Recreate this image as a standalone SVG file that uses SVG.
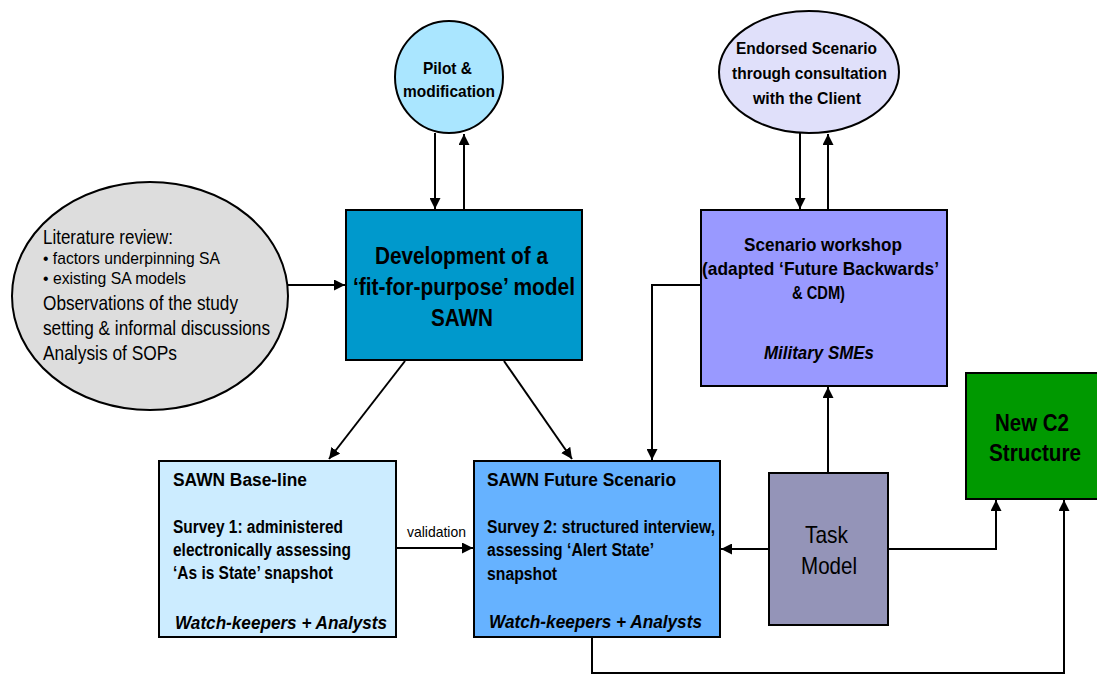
<svg xmlns="http://www.w3.org/2000/svg" width="1097" height="675" viewBox="0 0 1097 675">
  <style>
    .node { stroke: #000; stroke-width: 2; }
    .t { font-family: "Liberation Sans Narrow", "Arial Narrow", "Liberation Sans", Arial, sans-serif; fill: #000; }
    .b { font-weight: bold; }
    .i { font-style: italic; font-weight: bold; }
    .c { text-anchor: middle; }
    .edge { fill: none; stroke: #000; stroke-width: 2; }
  </style>
  <defs>
    <marker id="arrow" viewBox="0 0 10 10" refX="10" refY="5" markerWidth="5.5" markerHeight="5.5" orient="auto" markerUnits="strokeWidth">
      <path d="M0,0 L10,5 L0,10 z" fill="#000"/>
    </marker>
  </defs>

  <rect width="1097" height="675" fill="#fff"/>

  <!-- connectors -->
  <g id="connectors">
    <line class="edge" x1="288" y1="285" x2="345" y2="285" marker-end="url(#arrow)"/>
    <line class="edge" x1="435" y1="133" x2="435" y2="209" marker-end="url(#arrow)"/>
    <line class="edge" x1="464" y1="210" x2="464" y2="134" marker-end="url(#arrow)"/>
    <line class="edge" x1="800" y1="133" x2="800" y2="209" marker-end="url(#arrow)"/>
    <line class="edge" x1="828" y1="210" x2="828" y2="134" marker-end="url(#arrow)"/>
    <line class="edge" x1="405" y1="361" x2="329" y2="459" marker-end="url(#arrow)"/>
    <line class="edge" x1="504" y1="361" x2="572" y2="459" marker-end="url(#arrow)"/>
    <line class="edge" x1="397" y1="548" x2="473" y2="548" marker-end="url(#arrow)"/>
    <polyline class="edge" points="700,285 652,285 652,460" marker-end="url(#arrow)"/>
    <line class="edge" x1="828" y1="473" x2="828" y2="387" marker-end="url(#arrow)"/>
    <line class="edge" x1="769" y1="549" x2="721" y2="549" marker-end="url(#arrow)"/>
    <polyline class="edge" points="888,549 996,549 996,500" marker-end="url(#arrow)"/>
    <polyline class="edge" points="592,637 592,673 1064,673 1064,500" marker-end="url(#arrow)"/>
    <text class="t" x="407" y="537" font-size="15" textLength="59" lengthAdjust="spacingAndGlyphs">validation</text>
  </g>

  <!-- literature review -->
  <g id="literature">
    <ellipse class="node" cx="150" cy="296" rx="138" ry="114" fill="#DDDDDD"/>
    <text class="t" x="43" y="244" font-size="21" textLength="130" lengthAdjust="spacingAndGlyphs">Literature review:</text>
    <text class="t" x="43" y="264" font-size="17" textLength="177" lengthAdjust="spacingAndGlyphs">• factors underpinning SA</text>
    <text class="t" x="43" y="284" font-size="17" textLength="143" lengthAdjust="spacingAndGlyphs">• existing SA models</text>
    <text class="t" x="43" y="310" font-size="21" textLength="195" lengthAdjust="spacingAndGlyphs">Observations of the study</text>
    <text class="t" x="43" y="335" font-size="21" textLength="227" lengthAdjust="spacingAndGlyphs">setting &amp; informal discussions</text>
    <text class="t" x="43" y="360" font-size="21" textLength="134" lengthAdjust="spacingAndGlyphs">Analysis of SOPs</text>
  </g>

  <!-- pilot -->
  <g id="pilot">
    <ellipse class="node" cx="449" cy="77" rx="54" ry="56" fill="#AAE6FF"/>
    <text class="t b" x="423" y="74" font-size="17" textLength="49" lengthAdjust="spacingAndGlyphs">Pilot &amp;</text>
    <text class="t b" x="403" y="97" font-size="17" textLength="92" lengthAdjust="spacingAndGlyphs">modification</text>
  </g>

  <!-- development -->
  <g id="development">
    <rect class="node" x="346" y="210" width="236" height="150" fill="#0099CC"/>
    <text class="t b" x="375" y="264" font-size="24" textLength="173" lengthAdjust="spacingAndGlyphs">Development of a</text>
    <text class="t b" x="353" y="295" font-size="24" textLength="222" lengthAdjust="spacingAndGlyphs">‘fit-for-purpose’ model</text>
    <text class="t b" x="431" y="326" font-size="24" textLength="62" lengthAdjust="spacingAndGlyphs">SAWN</text>
  </g>

  <!-- endorsed scenario -->
  <g id="endorsed">
    <ellipse class="node" cx="809" cy="72" rx="90" ry="61" fill="#E0E0FA"/>
    <text class="t b" x="736" y="54" font-size="17" textLength="141" lengthAdjust="spacingAndGlyphs">Endorsed Scenario</text>
    <text class="t b" x="732" y="79" font-size="17" textLength="155" lengthAdjust="spacingAndGlyphs">through consultation</text>
    <text class="t b" x="753" y="104" font-size="17" textLength="108" lengthAdjust="spacingAndGlyphs">with the Client</text>
  </g>

  <!-- scenario workshop -->
  <g id="workshop">
    <rect class="node" x="701" y="210" width="246" height="176" fill="#9999FF"/>
    <text class="t b" x="744" y="251" font-size="19" textLength="158" lengthAdjust="spacingAndGlyphs">Scenario workshop</text>
    <text class="t b" x="702" y="275" font-size="19" textLength="237" lengthAdjust="spacingAndGlyphs">(adapted ‘Future Backwards’</text>
    <text class="t b" x="792" y="299" font-size="19" textLength="53" lengthAdjust="spacingAndGlyphs">&amp; CDM)</text>
    <text class="t i" x="764" y="359" font-size="19" textLength="110" lengthAdjust="spacingAndGlyphs">Military SMEs</text>
  </g>

  <!-- baseline -->
  <g id="baseline">
    <rect class="node" x="159" y="461" width="237" height="176" fill="#CCECFF"/>
    <text class="t b" x="173" y="486" font-size="18" textLength="134" lengthAdjust="spacingAndGlyphs">SAWN Base-line</text>
    <text class="t b" x="173" y="533" font-size="18" textLength="170" lengthAdjust="spacingAndGlyphs">Survey 1: administered</text>
    <text class="t b" x="173" y="556" font-size="18" textLength="178" lengthAdjust="spacingAndGlyphs">electronically assessing</text>
    <text class="t b" x="173" y="579" font-size="18" textLength="160" lengthAdjust="spacingAndGlyphs">‘As is State’ snapshot</text>
    <text class="t i" x="175" y="629" font-size="19" textLength="212" lengthAdjust="spacingAndGlyphs">Watch-keepers + Analysts</text>
  </g>

  <!-- future scenario -->
  <g id="future">
    <rect class="node" x="474" y="461" width="246" height="176" fill="#66B2FF"/>
    <text class="t b" x="487" y="486" font-size="18" textLength="189" lengthAdjust="spacingAndGlyphs">SAWN Future Scenario</text>
    <text class="t b" x="487" y="533" font-size="18" textLength="228" lengthAdjust="spacingAndGlyphs">Survey 2: structured interview,</text>
    <text class="t b" x="487" y="556" font-size="18" textLength="167" lengthAdjust="spacingAndGlyphs">assessing ‘Alert State’</text>
    <text class="t b" x="487" y="580" font-size="18" textLength="70" lengthAdjust="spacingAndGlyphs">snapshot</text>
    <text class="t i" x="489" y="628" font-size="19" textLength="213" lengthAdjust="spacingAndGlyphs">Watch-keepers + Analysts</text>
  </g>

  <!-- task model -->
  <g id="task">
    <rect class="node" x="769" y="473" width="119" height="152" fill="#9494B8"/>
    <text class="t" x="805" y="543" font-size="24" textLength="43" lengthAdjust="spacingAndGlyphs">Task</text>
    <text class="t" x="801" y="574" font-size="24" textLength="56" lengthAdjust="spacingAndGlyphs">Model</text>
  </g>

  <!-- new C2 structure -->
  <g id="c2">
    <rect class="node" x="966" y="373" width="133" height="126" fill="#009900"/>
    <text class="t b" x="995" y="431" font-size="24" textLength="74" lengthAdjust="spacingAndGlyphs">New C2</text>
    <text class="t b" x="989" y="461" font-size="24" textLength="92" lengthAdjust="spacingAndGlyphs">Structure</text>
  </g>
</svg>
